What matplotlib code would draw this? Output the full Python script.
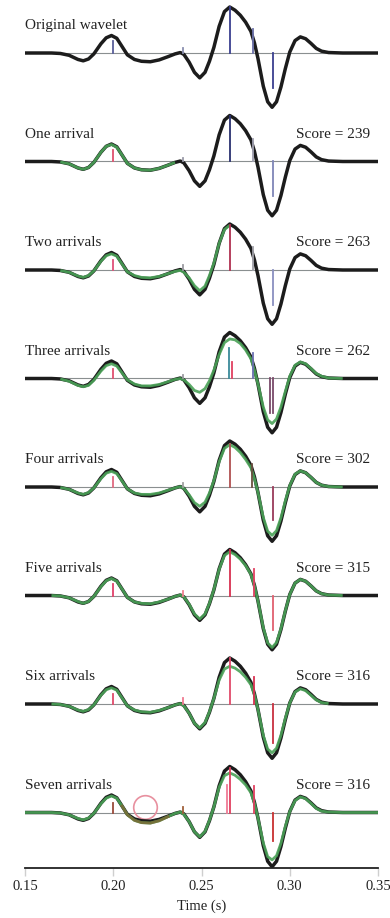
import matplotlib.pyplot as plt
import numpy as np

# sample times (s) shared by every trace
times = [
    0.150, 0.165, 0.170, 0.175, 0.180, 0.183, 0.186, 0.189, 0.193, 0.196,
    0.199, 0.202, 0.205, 0.208, 0.212, 0.216, 0.221, 0.226, 0.231, 0.235,
    0.238, 0.240, 0.243, 0.246, 0.249, 0.252, 0.2545, 0.257, 0.260, 0.263,
    0.266, 0.269, 0.272, 0.275, 0.278, 0.280, 0.282, 0.285, 0.2875, 0.290,
    0.2925, 0.295, 0.2975, 0.300, 0.303, 0.306, 0.309, 0.312, 0.315, 0.318,
    0.322, 0.330, 0.335, 0.350,
]

# observed wavelet, normalised to the main peak
wavelet = [
    0.00, 0.00, -0.01, -0.05, -0.14, -0.17, -0.13, -0.02, 0.20, 0.33,
    0.38, 0.32, 0.14, -0.04, -0.14, -0.18, -0.19, -0.15, -0.08, -0.02,
    0.01, -0.03, -0.20, -0.42, -0.54, -0.42, -0.18, 0.12, 0.58, 0.90,
    1.00, 0.93, 0.82, 0.67, 0.47, 0.22, -0.12, -0.72, -1.06, -1.18,
    -1.06, -0.74, -0.34, 0.02, 0.27, 0.35, 0.31, 0.21, 0.10, 0.04,
    0.01, 0.00, 0.00, 0.00,
]

N = None
fit_one = [
    N, N, -0.01, -0.05, -0.14, -0.17, -0.13, -0.02, 0.20, 0.33,
    0.37, 0.31, 0.14, -0.04, -0.14, -0.18, -0.19, -0.15, -0.08, -0.02,
    N, N, N, N, N, N, N, N, N, N,
    N, N, N, N, N, N, N, N, N, N,
    N, N, N, N, N, N, N, N, N, N,
    N, N, N, N,
]
fit_two = [
    N, N, -0.01, -0.05, -0.13, -0.16, -0.12, -0.02, 0.19, 0.31,
    0.35, 0.30, 0.13, -0.04, -0.12, -0.16, -0.17, -0.14, -0.08, -0.03,
    -0.01, -0.05, -0.17, -0.34, -0.45, -0.35, -0.12, 0.15, 0.58, 0.88,
    0.97, N, N, N, N, N, N, N, N, N,
    N, N, N, N, N, N, N, N, N, N,
    N, N, N, N,
]
fit_three = [
    N, N, -0.01, -0.06, -0.15, -0.18, -0.15, -0.04, 0.16, 0.28,
    0.32, 0.27, 0.12, -0.03, -0.12, -0.16, -0.16, -0.13, -0.07, -0.02,
    0.00, -0.03, -0.13, -0.26, -0.30, -0.22, -0.05, 0.18, 0.52, 0.78,
    0.86, 0.84, 0.76, 0.62, 0.43, 0.18, -0.12, -0.62, -0.90, -0.98,
    -0.88, -0.62, -0.28, 0.05, 0.29, 0.36, 0.32, 0.22, 0.11, 0.05,
    0.01, 0.00, N, N,
]
fit_four = [
    N, N, -0.01, -0.05, -0.13, -0.16, -0.12, -0.02, 0.18, 0.30,
    0.34, 0.29, 0.13, -0.04, -0.13, -0.16, -0.16, -0.13, -0.07, -0.02,
    0.01, -0.03, -0.17, -0.34, -0.42, -0.33, -0.13, 0.14, 0.55, 0.84,
    0.92, 0.86, 0.75, 0.60, 0.42, 0.18, -0.12, -0.66, -0.96, -1.05,
    -0.95, -0.67, -0.30, 0.03, 0.28, 0.35, 0.31, 0.21, 0.10, 0.04,
    0.01, 0.00, N, N,
]
fit_five = [
    N, 0.00, -0.01, -0.05, -0.13, -0.17, -0.13, -0.02, 0.19, 0.32,
    0.37, 0.31, 0.14, -0.04, -0.14, -0.17, -0.18, -0.14, -0.08, -0.02,
    0.01, -0.03, -0.19, -0.40, -0.51, -0.40, -0.17, 0.13, 0.57, 0.87,
    0.95, 0.89, 0.79, 0.65, 0.46, 0.21, -0.12, -0.70, -1.03, -1.13,
    -1.02, -0.72, -0.33, 0.02, 0.27, 0.35, 0.31, 0.21, 0.10, 0.04,
    0.01, 0.00, N, N,
]
fit_six = [
    N, 0.00, -0.01, -0.05, -0.13, -0.16, -0.12, -0.02, 0.19, 0.31,
    0.35, 0.30, 0.13, -0.04, -0.13, -0.17, -0.18, -0.14, -0.08, -0.02,
    0.01, -0.04, -0.20, -0.42, -0.52, -0.40, -0.17, 0.12, 0.52, 0.76,
    0.82, 0.78, 0.70, 0.58, 0.42, 0.20, -0.12, -0.68, -0.98, -1.06,
    -0.96, -0.68, -0.31, 0.02, 0.26, 0.33, 0.29, 0.19, 0.09, 0.03,
    0.01, N, N, N,
]
fit_seven = [
    0.00, 0.00, -0.01, -0.05, -0.13, -0.16, -0.12, -0.02, 0.19, 0.31,
    0.36, 0.31, 0.14, -0.05, -0.17, -0.22, -0.23, -0.18, -0.09, -0.02,
    0.01, -0.04, -0.20, -0.42, -0.53, -0.41, -0.17, 0.12, 0.55, 0.80,
    0.86, 0.81, 0.72, 0.60, 0.43, 0.20, -0.12, -0.66, -0.96, -1.03,
    -0.94, -0.67, -0.30, 0.02, 0.26, 0.34, 0.30, 0.20, 0.09, 0.03,
    0.01, 0.00, 0.00, 0.00,
]

titles = [
    "Original wavelet", "One arrival", "Two arrivals", "Three arrivals",
    "Four arrivals", "Five arrivals", "Six arrivals", "Seven arrivals",
]
scores = [None, 239, 263, 262, 302, 315, 316, 316]
fits = [None, fit_one, fit_two, fit_three, fit_four, fit_five, fit_six, fit_seven]

# arrivals per panel: (time, amplitude, colour)
arrivals = [
    [(0.200, 0.25, "#5a5f9a"), (0.2396, 0.11, "#8a8fb0"), (0.266, 1.00, "#3a3f90"),
     (0.279, 0.52, "#6a70a8"), (0.2905, -0.76, "#3a3f90")],
    [(0.200, 0.25, "#e0506e"), (0.2396, 0.08, "#9a9aa8"), (0.266, 0.99, "#2a3070"),
     (0.279, 0.48, "#a0a0b0"), (0.2905, -0.76, "#7f86b8")],
    [(0.200, 0.22, "#e0507a"), (0.2396, 0.10, "#9a9aa0"), (0.266, 0.97, "#b03050"),
     (0.279, 0.49, "#a0a0a8"), (0.2905, -0.76, "#8a90c0")],
    [(0.200, 0.20, "#e05070"), (0.2396, 0.08, "#9a9aa0"), (0.2655, 0.67, "#3a8a9a"),
     (0.2670, 0.36, "#e04060"), (0.279, 0.55, "#6a70b0"), (0.289, -0.76, "#7a4a6a"),
     (0.2905, -0.76, "#7a4a6a")],
    [(0.200, 0.22, "#e06a80"), (0.2396, 0.08, "#a0a0a0"), (0.266, 0.94, "#b05050"),
     (0.2785, 0.50, "#6a5040"), (0.2905, -0.72, "#9a3a5a")],
    [(0.200, 0.25, "#e0406a"), (0.2396, 0.10, "#f08090"), (0.266, 0.98, "#d83050"),
     (0.2795, 0.58, "#e04060"), (0.2905, -0.76, "#e06070")],
    [(0.200, 0.22, "#e04a6a"), (0.2396, 0.12, "#f07a90"), (0.266, 1.00, "#e04a6a"),
     (0.2795, 0.58, "#d83050"), (0.2905, -0.85, "#c83040")],
    [(0.200, 0.20, "#9a4a3a"), (0.2396, 0.12, "#a0603a"), (0.266, 0.96, "#e04060"),
     (0.2645, 0.60, "#f07a95"), (0.2795, 0.57, "#e04060"), (0.2905, -0.63, "#c83030")],
]

# flagged misfit in the last panel
circle_time = 0.218
circle_amp = 0.11
misfit_window = (0.205, 0.231)

t = np.array(times)
w = np.array(wavelet)

# layout in pixels: 46 px per unit amplitude, 108.5 px between traces
unit_px = 46.0
spacing = 108.5 / unit_px
top = 53.0 / unit_px
bottom = -(868.0 - 53.0) / unit_px

plt.rcParams["font.family"] = ["Liberation Serif", "DejaVu Serif"]

fig = plt.figure(figsize=(3.9, 9.18), dpi=100)
ax = fig.add_axes([25 / 390, 50 / 918, 353 / 390, 868 / 918])

for k, title in enumerate(titles):
    off = -k * spacing
    ax.plot([0.15, 0.35], [off, off], color="#8a8f90", lw=0.8, zorder=1)
    ax.plot(t, w + off, color="#1c1c1c", lw=2.5, solid_capstyle="round", zorder=2)
    if fits[k] is not None:
        f = np.array(fits[k], dtype=float)
        ax.plot(t, f + off, color="#4aa257", lw=2.0, alpha=0.9,
                solid_capstyle="butt", zorder=3)
    for at, amp, col in arrivals[k]:
        ax.plot([at, at], [off, off + amp], color=col, lw=1.3, zorder=4)
    ax.text(0.15, off + 27 / unit_px, title, fontsize=11, ha="left", va="center",
            color="#222222")
    if scores[k] is not None:
        ax.text(0.3455, off + 27 / unit_px, f"Score = {scores[k]}", fontsize=11,
                ha="right", va="center", color="#222222")

# olive tint where the last fit departs from the wavelet
last = -(len(titles) - 1) * spacing
sel = (t >= misfit_window[0]) & (t <= misfit_window[1])
ax.plot(t[sel], np.array(fit_seven, dtype=float)[sel] + last, color="#7d6a35",
        lw=2.0, alpha=0.85, zorder=3.5)
ax.plot([circle_time], [last + circle_amp], "o", ms=17, mfc="none",
        mec="#e8909f", mew=1.2, zorder=1.5)

ax.set_xlim(0.15, 0.35)
ax.set_ylim(bottom, top)
for side in ["top", "right", "left"]:
    ax.spines[side].set_visible(False)
ax.spines["bottom"].set_linewidth(1.3)
ax.spines["bottom"].set_color("#222222")
ax.set_yticks([])
ax.set_xticks([0.15, 0.20, 0.25, 0.30, 0.35])
ax.set_xticklabels(["0.15", "0.20", "0.25", "0.30", "0.35"])
ax.tick_params(axis="x", direction="out", length=6, width=1.0, color="#cfcfcf",
               pad=3, labelsize=10.5, labelcolor="#222222")
ax.set_xlabel("Time (s)", fontsize=10.5, labelpad=4, color="#222222")
ax.patch.set_visible(False)

fig.savefig("out.png", dpi=100)
